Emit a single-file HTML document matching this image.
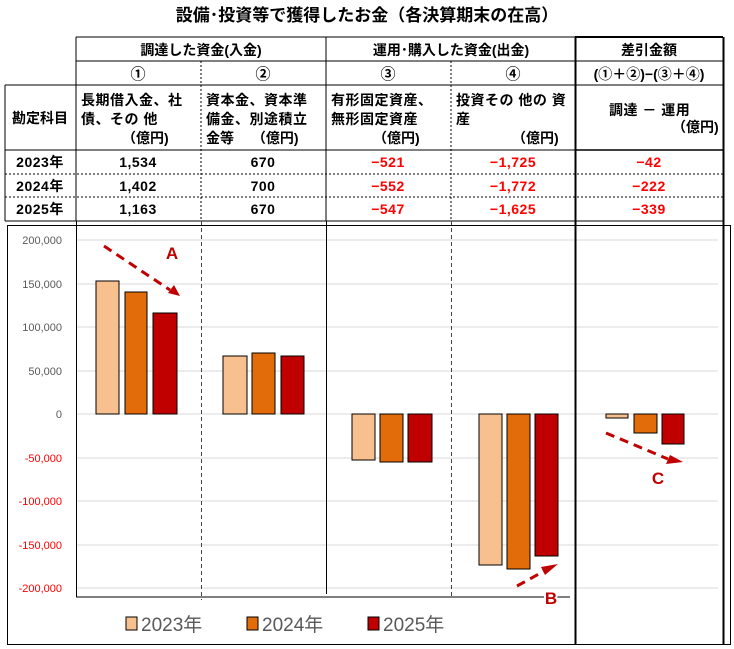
<!DOCTYPE html>
<html><head><meta charset="utf-8"><style>
body{margin:0;background:#fff;}
svg{display:block;font-family:"Liberation Sans","Noto Sans CJK JP",sans-serif;}
</style></head><body>
<svg width="734" height="649" viewBox="0 0 734 649" xmlns="http://www.w3.org/2000/svg">
<text x="367" y="21" font-size="17" font-weight="bold" text-anchor="middle">設備･投資等で獲得したお金（各決算期末の在高）</text>
<g stroke="#000" stroke-width="1" fill="none">
<line x1="76" y1="37" x2="723" y2="37"/>
<line x1="76" y1="61" x2="723" y2="61"/>
<line x1="5" y1="85" x2="723" y2="85"/>
<line x1="5" y1="150" x2="723" y2="150"/>
<line x1="5" y1="221" x2="723" y2="221"/>
<line x1="5" y1="85" x2="5" y2="221"/>
<line x1="76" y1="37" x2="76" y2="221"/>
<line x1="326" y1="37" x2="326" y2="221"/>
<line x1="201" y1="61" x2="201" y2="221" stroke-dasharray="2,2"/>
<line x1="451" y1="61" x2="451" y2="221" stroke-dasharray="2,2"/>
<line x1="5" y1="174" x2="723" y2="174" stroke-dasharray="2,2"/>
<line x1="5" y1="197" x2="723" y2="197" stroke-dasharray="2,2"/>
</g>
<g font-size="14" font-weight="bold" text-anchor="middle">
<text x="201" y="55">調達した資金(入金)</text>
<text x="451" y="55">運用･購入した資金(出金)</text>
<text x="649" y="55">差引金額</text>
<text x="138" y="79" font-size="15">①</text><text x="263" y="79" font-size="15">②</text>
<text x="388" y="79" font-size="15">③</text><text x="513" y="79" font-size="15">④</text>
<text x="649" y="79" font-size="14">(①＋②)−(③＋④)</text>
<text x="40" y="123">勘定科目</text>
</g>
<g font-size="14" font-weight="bold">
<text x="81" y="105" letter-spacing="0.5">長期借入金、社</text><text x="81" y="124" letter-spacing="0.5">債、その 他</text><text x="122" y="143">（億円)</text>
<text x="206" y="105" letter-spacing="0.5">資本金、資本準</text><text x="206" y="124" letter-spacing="0.5">備金、別途積立</text><text x="206" y="143">金等　 （億円)</text>
<text x="331" y="105" letter-spacing="0.5">有形固定資産、</text><text x="331" y="124" letter-spacing="0.5">無形固定資産</text><text x="373" y="143">（億円)</text>
<text x="456" y="105" letter-spacing="0.5">投資その 他の 資</text><text x="456" y="124">産</text><text x="512" y="143">（億円)</text>
<text x="609" y="115" letter-spacing="0.5">調達 － 運用</text><text x="672" y="132">（億円)</text>
</g>
<g font-size="14" font-weight="bold" text-anchor="middle" letter-spacing="0.5">
<text x="40" y="167">2023年</text><text x="40" y="191">2024年</text><text x="40" y="214">2025年</text>
<text x="138" y="167">1,534</text><text x="138" y="191">1,402</text><text x="138" y="214">1,163</text>
<text x="263" y="167">670</text><text x="263" y="191">700</text><text x="263" y="214">670</text>
<g fill="#f00">
<text x="388" y="167">−521</text><text x="388" y="191">−552</text><text x="388" y="214">−547</text>
<text x="513" y="167">−1,725</text><text x="513" y="191">−1,772</text><text x="513" y="214">−1,625</text>
<text x="649" y="167">−42</text><text x="649" y="191">−222</text><text x="649" y="214">−339</text>
</g></g>
<rect x="7.5" y="225.5" width="723" height="419" fill="none" stroke="#000"/>
<g stroke="#d9d9d9">
<line x1="76" y1="240" x2="718" y2="240"/><line x1="76" y1="284" x2="718" y2="284"/>
<line x1="76" y1="327" x2="718" y2="327"/><line x1="76" y1="371" x2="718" y2="371"/>
<line x1="76" y1="414" x2="718" y2="414"/><line x1="76" y1="458" x2="718" y2="458"/>
<line x1="76" y1="501" x2="718" y2="501"/><line x1="76" y1="545" x2="718" y2="545"/>
<line x1="76" y1="588" x2="718" y2="588"/>
</g>
<g font-size="11" text-anchor="end" fill="#595959">
<text x="62" y="244">200,000</text><text x="62" y="288">150,000</text><text x="62" y="331">100,000</text>
<text x="62" y="375">50,000</text><text x="62" y="418">0</text>
<g fill="#f00"><text x="62" y="462">-50,000</text><text x="62" y="505">-100,000</text><text x="62" y="549">-150,000</text><text x="62" y="592">-200,000</text></g>
</g>
<g stroke="#000">
<line x1="76.5" y1="221" x2="76.5" y2="597"/>
<line x1="76" y1="597" x2="570" y2="597"/>
<line x1="326.5" y1="221" x2="326.5" y2="594"/>
<line x1="201.5" y1="221" x2="201.5" y2="600" stroke-dasharray="4,3" stroke="#444"/>
<line x1="451.5" y1="221" x2="451.5" y2="597" stroke-dasharray="4,3" stroke="#444"/>
<line x1="575.5" y1="37" x2="575.5" y2="645" stroke-width="2"/>
<line x1="723.5" y1="37" x2="723.5" y2="645" stroke-width="2"/>
<line x1="575" y1="37" x2="723" y2="37" stroke-width="2"/>
<line x1="575" y1="150" x2="723" y2="150" stroke-width="1.5"/>
</g>
<g stroke="#000" stroke-width="1">
<rect x="96" y="281" width="23" height="133" fill="#F8C08F"/>
<rect x="125" y="292" width="22" height="122" fill="#E36C0A"/>
<rect x="153" y="313" width="24" height="101" fill="#C00000"/>
<rect x="223" y="356" width="24" height="58" fill="#F8C08F"/>
<rect x="252" y="353" width="23" height="61" fill="#E36C0A"/>
<rect x="281" y="356" width="23" height="58" fill="#C00000"/>
<rect x="352" y="414" width="23" height="46" fill="#F8C08F"/>
<rect x="380" y="414" width="23" height="48" fill="#E36C0A"/>
<rect x="408" y="414" width="24" height="48" fill="#C00000"/>
<rect x="479" y="414" width="23" height="151" fill="#F8C08F"/>
<rect x="507" y="414" width="23" height="155" fill="#E36C0A"/>
<rect x="535" y="414" width="23" height="142" fill="#C00000"/>
<rect x="606" y="414" width="22" height="4" fill="#F8C08F"/>
<rect x="634" y="414" width="23" height="19" fill="#E36C0A"/>
<rect x="662" y="414" width="22" height="30" fill="#C00000"/>
</g>
<g stroke="#C00000" stroke-width="3" stroke-dasharray="9,6" fill="none">
<line x1="104" y1="246" x2="170" y2="290"/>
<line x1="517" y1="586" x2="546" y2="570"/>
<line x1="606" y1="433" x2="668" y2="459"/>
</g>
<g fill="#C00000">
<polygon points="180,296 168,293 174,285"/>
<polygon points="558,564 545,575 541,567"/>
<polygon points="683,462 666,464 670,455"/>
</g>
<g font-size="17" font-weight="bold" fill="#C00000" text-anchor="middle">
<text x="172" y="259">A</text>
<text x="551" y="604" stroke="#fff" stroke-width="4" paint-order="stroke">B</text>
<text x="658" y="484">C</text>
</g>
<g font-size="19" fill="#595959">
<rect x="126" y="617" width="11" height="13" fill="#F8C08F" stroke="#000"/><text x="141" y="631">2023年</text>
<rect x="247" y="617" width="11" height="13" fill="#E36C0A" stroke="#000"/><text x="262" y="631">2024年</text>
<rect x="368" y="617" width="11" height="13" fill="#C00000" stroke="#000"/><text x="383" y="631">2025年</text>
</g>
</svg>
</body></html>
